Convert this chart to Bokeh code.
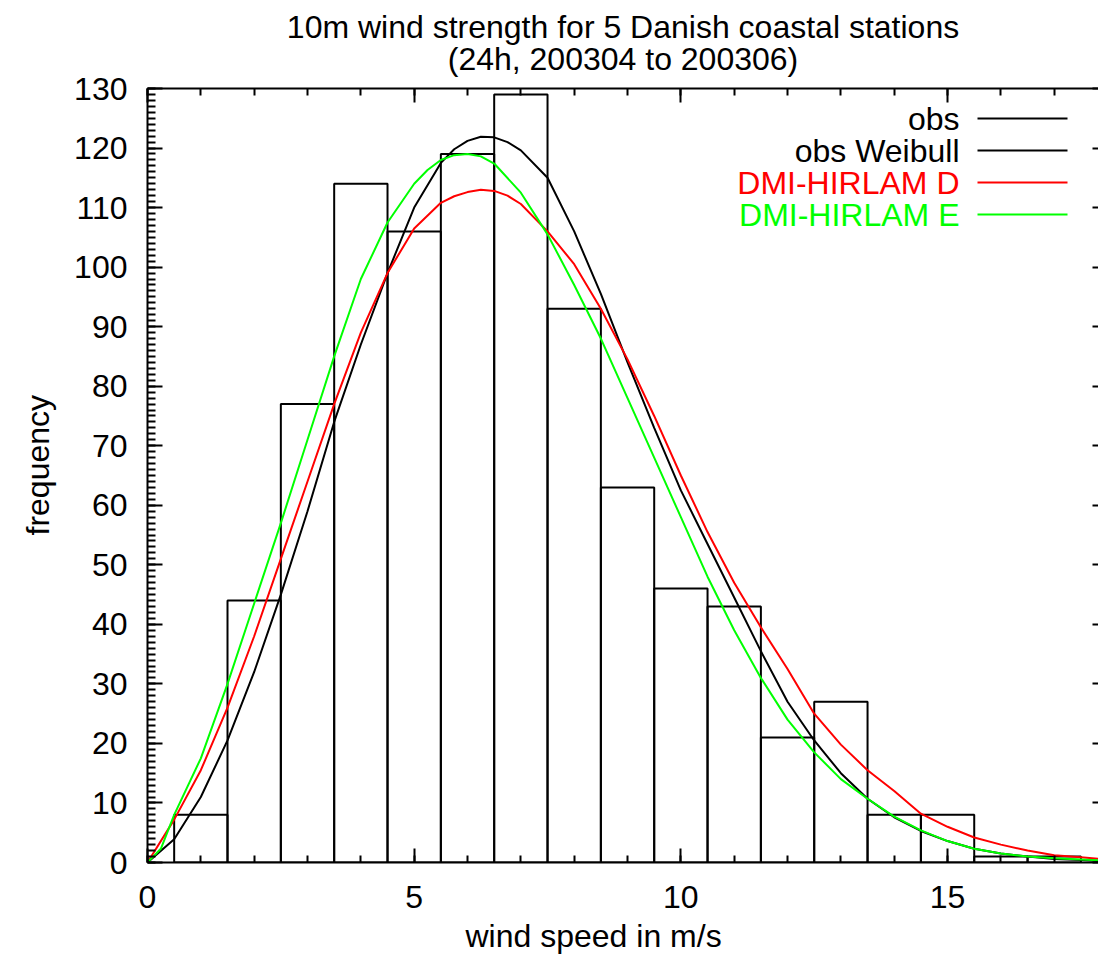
from bokeh.plotting import figure
from bokeh.models import Range1d, LinearAxis, SingleIntervalTicker, Label, Title
from bokeh.embed import file_html
from bokeh.resources import INLINE

# ---------------- data ----------------
bin_centers = [1, 2, 3, 4, 5, 6, 7, 8, 9, 10, 11, 12, 13, 14, 15, 16, 17]
obs_counts = [8, 44, 77, 114, 106, 119, 129, 93, 63, 46, 43, 21, 27, 8, 8, 1, 1]

weib_x = [0, 0.5, 1, 1.5, 2, 2.5, 3, 3.5, 4, 4.5, 5, 5.5, 5.75, 6, 6.25, 6.5, 6.75, 7,
          7.5, 8, 8.5, 9, 9.5, 10, 10.5, 11, 11.5, 12, 12.5, 13, 13.5, 14, 14.5, 15,
          15.5, 16, 16.5, 17, 17.5, 18]
weib_y = [0, 3.9, 11, 20.5, 32, 45, 59, 74, 87, 99, 110, 117.5, 119.8, 121.2, 121.9,
          121.8, 121.0, 119.6, 115, 106, 95.5, 84, 73, 62.5, 53.5, 44.5, 35.5, 27,
          20.5, 15, 10.7, 7.6, 5.3, 3.6, 2.3, 1.5, 1.0, 0.6, 0.4, 0.2]

hirD_x = [0, 0.5, 1, 1.5, 2, 2.5, 3, 3.5, 4, 4.5, 5, 5.5, 5.75, 6, 6.25, 6.5, 6.75, 7,
          7.5, 8, 8.5, 9, 9.5, 10, 10.5, 11, 11.5, 12, 12.5, 13, 13.5, 14, 14.5, 15,
          15.5, 16, 16.5, 17, 17.5, 18]
hirD_y = [0, 7.2, 15.5, 26, 38, 51, 64, 77, 89, 99, 106.5, 110.8, 111.9, 112.6, 113,
          112.8, 112.0, 110.6, 106, 100.5, 93, 84.5, 75, 65, 55.5, 47, 39.5, 32.5, 25,
          19.8, 15.5, 12, 8.2, 6, 4.2, 3, 2, 1.2, 0.9, 0.5]

hirE_x = [0, 0.25, 0.5, 1, 1.5, 2, 2.5, 3, 3.5, 4, 4.5, 5, 5.25, 5.5, 5.75, 6, 6.25,
          6.5, 7, 7.5, 8, 8.5, 9, 9.5, 10, 10.5, 11, 11.5, 12, 12.5, 13, 13.5, 14,
          14.5, 15, 15.5, 16, 16.5, 17, 17.5, 18]
hirE_y = [0, 2.3, 8.0, 17.5, 30, 43.5, 57, 71, 85, 98, 107.5, 114, 116.3, 118, 118.8,
          119, 118.6, 117.4, 112.5, 105.5, 97, 88, 78, 68, 58, 48, 39, 31, 24, 18.5,
          14, 10.7, 7.7, 5.4, 3.6, 2.3, 1.5, 1.0, 0.7, 0.5, 0.3]

series_names = ["obs", "obs Weibull", "DMI-HIRLAM D", "DMI-HIRLAM E"]
series_colors = ["#000000", "#000000", "#ff0000", "#00ff00"]

title_lines = ["10m wind strength for 5 Danish coastal stations",
               "(24h, 200304 to 200306)"]
x_label = "wind speed in m/s"
y_label = "frequency"

# ---------------- layout ----------------
FONT = "Liberation Sans"
FS = "32px"
FRAME_W, FRAME_H = 951, 774
X_END = 17.83
Y_END = 130

p = figure(frame_width=FRAME_W, frame_height=FRAME_H,
           x_range=Range1d(0, X_END), y_range=Range1d(0, Y_END),
           output_backend="svg", toolbar_location=None,
           x_axis_location=None, y_axis_location=None)
p.min_border_left = 147
p.min_border_right = 0
p.min_border_top = 88
p.min_border_bottom = 0
p.outline_line_color = None
p.grid.visible = False
p.background_fill_color = "white"
p.border_fill_color = "white"


def style_axis(ax, major_in, minor_in, labels=True, standoff=16):
    ax.axis_line_width = 2
    ax.axis_line_color = "black"
    ax.major_tick_line_width = 2
    ax.minor_tick_line_width = 2
    ax.major_tick_in = major_in
    ax.major_tick_out = 0
    ax.minor_tick_in = minor_in
    ax.minor_tick_out = 0
    ax.major_label_text_font = FONT
    ax.major_label_text_font_size = FS
    ax.major_label_text_color = "black"
    ax.major_label_standoff = standoff
    if not labels:
        ax.major_label_overrides = {v: "" for v in range(0, 200)}
        ax.major_label_standoff = 0


xb = LinearAxis(ticker=SingleIntervalTicker(interval=5, num_minor_ticks=5))
style_axis(xb, 14, 7, True, 23)
p.add_layout(xb, "below")

xt = LinearAxis(ticker=SingleIntervalTicker(interval=5, num_minor_ticks=5))
style_axis(xt, 14, 7, False)
p.add_layout(xt, "above")

yl = LinearAxis(ticker=SingleIntervalTicker(interval=10, num_minor_ticks=10))
style_axis(yl, 15, 8, True, 20)
p.add_layout(yl, "left")

yr = LinearAxis(ticker=SingleIntervalTicker(interval=10, num_minor_ticks=0))
style_axis(yr, 6, 0, False)
yr.axis_line_color = None
p.add_layout(yr, "right")

# ---------------- titles and axis labels ----------------
def make_title(text, standoff, **kw):
    return Title(text=text, text_font=FONT, text_font_size=FS,
                 text_font_style="normal", standoff=standoff,
                 text_color="black", **kw)

p.add_layout(make_title(title_lines[1], 24, align="center"), "above")
p.add_layout(make_title(title_lines[0], -36, align="center"), "above")
p.add_layout(make_title(x_label, 11, align="left", offset=318), "below")
p.add_layout(make_title(y_label, 32, align="left", offset=327), "left")

# ---------------- marks ----------------
p.vbar(x=bin_centers, width=1, top=obs_counts, bottom=0,
       fill_color=None, line_color=series_colors[0], line_width=2)
p.line(weib_x, weib_y, line_color=series_colors[1], line_width=2)
p.line(hirD_x, hirD_y, line_color=series_colors[2], line_width=2)
p.line(hirE_x, hirE_y, line_color=series_colors[3], line_width=2)

# ---------------- legend (gnuplot style: text right, sample to its right) ----
px2x = X_END / FRAME_W
px2y = Y_END / FRAME_H
leg_row_off = [30, 62, 94, 126]        # px below frame top
leg_text_right = 812                   # px from frame left
leg_seg = (830, 920)                   # px from frame left
for name, col, off in zip(series_names, series_colors, leg_row_off):
    p.add_layout(Label(x=leg_text_right, y=FRAME_H - off, x_units="screen",
                       y_units="screen", text=name, text_align="right",
                       text_baseline="middle", text_font=FONT,
                       text_font_size=FS, text_color=col))
    yy = Y_END - off * px2y
    p.segment(x0=[leg_seg[0] * px2x], y0=[yy], x1=[leg_seg[1] * px2x], y1=[yy],
              line_color=col, line_width=2)

open("out.html", "w").write(file_html(p, INLINE))
